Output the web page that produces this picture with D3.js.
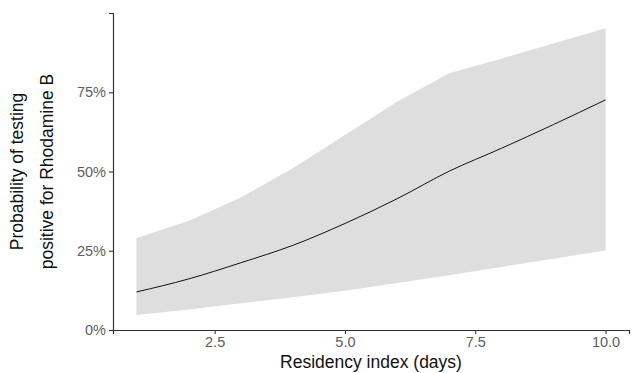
<!DOCTYPE html>
<html>
<head>
<meta charset="utf-8">
<script src="https://cdn.jsdelivr.net/npm/d3@7"></script>
<style>
  body { margin: 0; background: #fff; }
  svg { display: block; font-family: "Liberation Sans", Arial, sans-serif; }
</style>
</head>
<body>
<svg id="chart" width="640" height="373"></svg>
<script>
// residency index (days)
var days = [1, 2, 3, 4, 5, 6, 7, 8, 9, 10];
// fitted probability and confidence band
var fit   = [0.120, 0.161, 0.212, 0.267, 0.336, 0.414, 0.501, 0.573, 0.648, 0.726];
var lower = [0.047, 0.065, 0.084, 0.103, 0.124, 0.148, 0.173, 0.199, 0.225, 0.251];
var upper = [0.290, 0.344, 0.418, 0.510, 0.615, 0.720, 0.810, 0.856, 0.904, 0.952];
var xTicks = [2.5, 5.0, 7.5, 10.0];
var yTicks = [0, 0.25, 0.5, 0.75];

var rows = days.map(function (d, i) {
  return { x: d, y: fit[i], lo: lower[i], hi: upper[i] };
});

var svg = d3.select("#chart");
var plotLeft = 113, plotRight = 629, plotTop = 13, plotBottom = 330;

var x = d3.scaleLinear().domain([0.55, 10.45]).range([plotLeft, plotRight]);
var y = d3.scaleLinear().domain([0, 1]).range([plotBottom, plotTop]);

// confidence ribbon
svg.append("path")
  .datum(rows)
  .attr("fill", "#dedede")
  .attr("d", d3.area()
    .x(function (d) { return x(d.x); })
    .y0(function (d) { return y(d.lo); })
    .y1(function (d) { return y(d.hi); }));

// fitted line
svg.append("path")
  .datum(rows)
  .attr("fill", "none")
  .attr("stroke", "#111")
  .attr("stroke-width", 1)
  .attr("d", d3.line()
    .curve(d3.curveMonotoneX)
    .x(function (d) { return x(d.x); })
    .y(function (d) { return y(d.y); }));

// axes
var xAxis = svg.append("g")
  .attr("transform", "translate(0," + plotBottom + ")")
  .call(d3.axisBottom(x).tickValues(xTicks).tickFormat(d3.format(".1f"))
    .tickSizeOuter(0).tickSize(4).tickPadding(3));

var yAxis = svg.append("g")
  .attr("transform", "translate(" + plotLeft + ",0)")
  .call(d3.axisLeft(y).tickValues(yTicks).tickFormat(d3.format(".0%"))
    .tickSizeOuter(0).tickSize(4).tickPadding(3));

[xAxis, yAxis].forEach(function (g) {
  g.select(".domain").attr("stroke", "#333").attr("stroke-width", 1.2);
  g.selectAll(".tick line").attr("stroke", "#333").attr("stroke-width", 1.1);
  g.selectAll(".tick text")
    .attr("fill", "#5e5e5e")
    .style("font-size", "14.5px")
    .style("font-family", "Liberation Sans, Arial, sans-serif");
});

// axis titles
svg.append("text")
  .attr("x", (plotLeft + plotRight) / 2)
  .attr("y", 368)
  .attr("text-anchor", "middle")
  .attr("fill", "#111")
  .style("font-size", "17.5px")
  .text("Residency index (days)");

var yTitle = svg.append("text")
  .attr("transform", "translate(0," + ((plotTop + plotBottom) / 2) + ") rotate(-90)")
  .attr("text-anchor", "middle")
  .attr("fill", "#111")
  .style("font-size", "17.5px");
yTitle.append("tspan").attr("x", 0).attr("y", 23).text("Probability of testing");
yTitle.append("tspan").attr("x", 0).attr("y", 53).text("positive for Rhodamine B");
</script>
</body>
</html>
